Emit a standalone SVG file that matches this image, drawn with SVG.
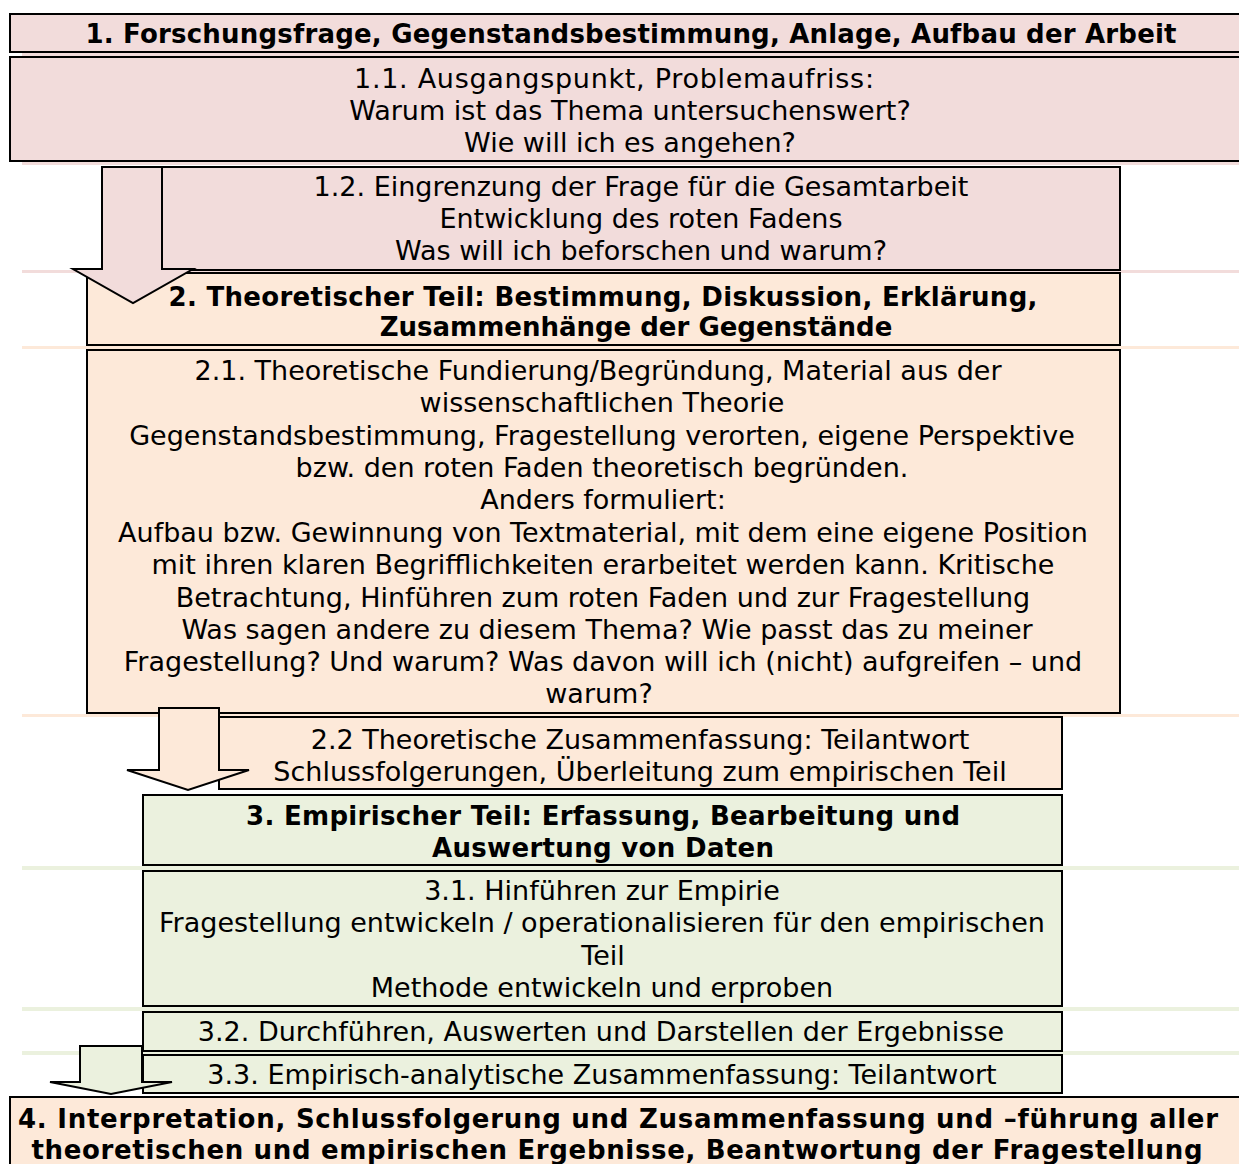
<svg xmlns="http://www.w3.org/2000/svg" width="1239" height="1164" viewBox="0 0 1239 1164">
<style>
.box{stroke:#000;stroke-width:2}
.pink{fill:#f2dcdb}
.peach{fill:#fde9d9}
.green{fill:#ebf1de}
text{font-family:"DejaVu Sans","Liberation Sans",sans-serif;font-size:27px;fill:#000;text-anchor:middle}
.b{font-weight:bold;font-size:26px}
.arrow{stroke:#000;stroke-width:2;stroke-linejoin:miter}
</style>
<g id="bands">
<rect x="22" y="53" width="1217" height="3" class="pink"/>
<rect x="22" y="161" width="1217" height="4" class="pink"/>
<rect x="22" y="270" width="1217" height="3" class="pink"/>
<rect x="22" y="346" width="1217" height="3" class="peach"/>
<rect x="22" y="714" width="1217" height="3" class="peach"/>
<rect x="22" y="866" width="1217" height="4" class="green"/>
<rect x="22" y="1007" width="1217" height="4" class="green"/>
<rect x="22" y="1051" width="1217" height="4" class="green"/>
</g>
<g id="n1">
<rect x="10" y="14" width="1240" height="38" class="box pink"/>
<text class="b" x="631" y="43" textLength="1091" lengthAdjust="spacing">1. Forschungsfrage, Gegenstandsbestimmung, Anlage, Aufbau der Arbeit</text>
</g>
<g id="n1_1">
<rect x="10" y="57" width="1240" height="104" class="box pink"/>
<text x="614" y="88" textLength="520" lengthAdjust="spacing">1.1. Ausgangspunkt, Problemaufriss:</text>
<text x="630" y="120">Warum ist das Thema untersuchenswert?</text>
<text x="630" y="152">Wie will ich es angehen?</text>
</g>
<g id="n1_2">
<rect x="162" y="167" width="958" height="103" class="box pink"/>
<text x="641" y="196">1.2. Eingrenzung der Frage für die Gesamtarbeit</text>
<text x="641" y="228">Entwicklung des roten Fadens</text>
<text x="641" y="260">Was will ich beforschen und warum?</text>
</g>
<g id="n2">
<rect x="87" y="273" width="1033" height="72" class="box peach"/>
<text class="b" x="603" y="306" textLength="869" lengthAdjust="spacing">2. Theoretischer Teil: Bestimmung, Diskussion, Erklärung,</text>
<text class="b" x="636" y="336">Zusammenhänge der Gegenstände</text>
</g>
<g id="n2_1">
<rect x="87" y="350" width="1033" height="363" class="box peach"/>
<text x="598" y="380">2.1. Theoretische Fundierung/Begründung, Material aus der</text>
<text x="602" y="412">wissenschaftlichen Theorie</text>
<text x="602" y="445">Gegenstandsbestimmung, Fragestellung verorten, eigene Perspektive</text>
<text x="602" y="477">bzw. den roten Faden theoretisch begründen.</text>
<text x="603" y="509">Anders formuliert:</text>
<text x="603" y="542">Aufbau bzw. Gewinnung von Textmaterial, mit dem eine eigene Position</text>
<text x="603" y="574">mit ihren klaren Begrifflichkeiten erarbeitet werden kann. Kritische</text>
<text x="603" y="607">Betrachtung, Hinführen zum roten Faden und zur Fragestellung</text>
<text x="607" y="639">Was sagen andere zu diesem Thema? Wie passt das zu meiner</text>
<text x="603" y="671">Fragestellung? Und warum? Was davon will ich (nicht) aufgreifen – und</text>
<text x="599" y="703">warum?</text>
</g>
<g id="n2_2">
<rect x="219" y="717" width="843" height="72" class="box peach"/>
<text x="640" y="749">2.2 Theoretische Zusammenfassung: Teilantwort</text>
<text x="640" y="781">Schlussfolgerungen, Überleitung zum empirischen Teil</text>
</g>
<g id="n3">
<rect x="143" y="795" width="919" height="70" class="box green"/>
<text class="b" x="603" y="825" textLength="714" lengthAdjust="spacing">3. Empirischer Teil: Erfassung, Bearbeitung und</text>
<text class="b" x="603" y="857" textLength="342" lengthAdjust="spacing">Auswertung von Daten</text>
</g>
<g id="n3_1">
<rect x="143" y="871" width="919" height="135" class="box green"/>
<text x="602" y="900">3.1. Hinführen zur Empirie</text>
<text x="602" y="932">Fragestellung entwickeln / operationalisieren für den empirischen</text>
<text x="603" y="965">Teil</text>
<text x="602" y="997">Methode entwickeln und erproben</text>
</g>
<g id="n3_2">
<rect x="143" y="1012" width="919" height="39" class="box green"/>
<text x="601" y="1041">3.2. Durchführen, Auswerten und Darstellen der Ergebnisse</text>
</g>
<g id="n3_3">
<rect x="143" y="1055" width="919" height="38" class="box green"/>
<text x="602" y="1084">3.3. Empirisch-analytische Zusammenfassung: Teilantwort</text>
</g>
<g id="n4">
<rect x="10" y="1097" width="1240" height="80" class="box peach"/>
<text class="b" x="618" y="1128" textLength="1200" lengthAdjust="spacing">4. Interpretation, Schlussfolgerung und Zusammenfassung und –führung aller</text>
<text class="b" x="617" y="1159" textLength="1171" lengthAdjust="spacing">theoretischen und empirischen Ergebnisse, Beantwortung der Fragestellung</text>
</g>
<g id="connectors">
<polygon class="arrow pink" points="102,167 162,167 162,269 193,269 133,303 73,269 102,269"/>
<polygon class="arrow peach" points="159,708 219,708 219,770 249,770 188,790 127,770 159,770"/>
<polygon class="arrow green" points="80,1046 142,1046 142,1082 172,1082 111,1094 50,1082 80,1082"/>
</g>
</svg>
